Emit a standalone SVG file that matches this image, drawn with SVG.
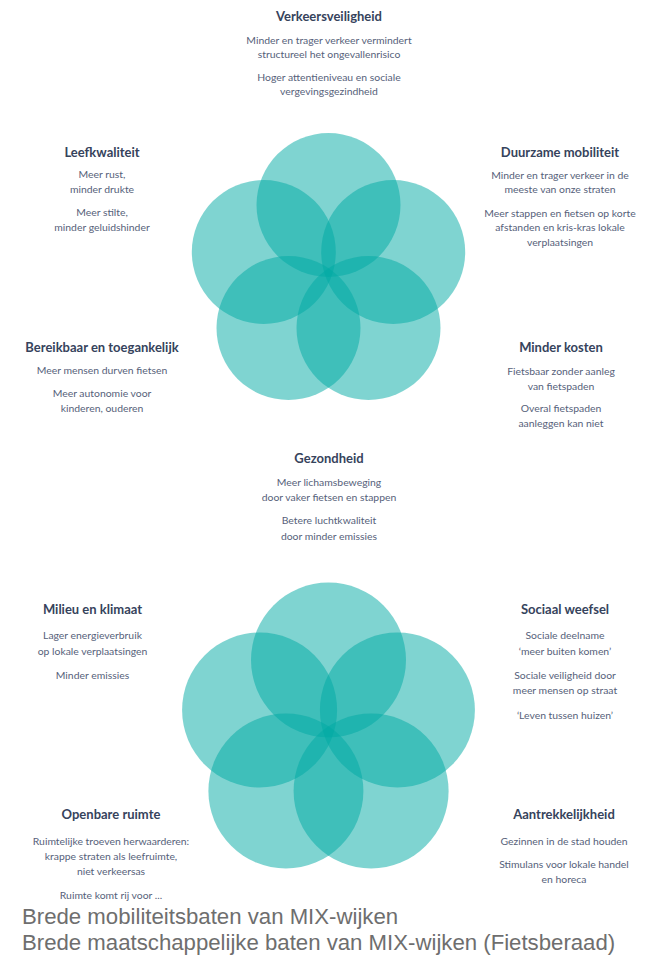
<svg xmlns="http://www.w3.org/2000/svg" width="659" height="955" viewBox="0 0 659 955">
  <style>
    .petal { fill: #00a9a4; fill-opacity: 0.5; }
    .title { font-family: Lato, "Noto Sans", "DejaVu Sans", sans-serif; font-weight: 700; font-size: 13px; fill: #36435c; text-anchor: middle; }
    .body { font-family: Lato, "Noto Sans", "DejaVu Sans", sans-serif; font-size: 10.4px; fill: #56617a; text-anchor: middle; }
    .caption { font-family: "Liberation Sans", Arial, sans-serif; font-size: 22.2px; fill: #6e6e6e; }
  </style>
  <rect width="659" height="955" fill="#ffffff"/>

  <!-- upper flower: five overlapping circles on a pentagon -->
  <g id="flower-mobility">
    <circle class="petal" cx="328.5" cy="205" r="72"/>
    <circle class="petal" cx="263.8" cy="252" r="72"/>
    <circle class="petal" cx="393.2" cy="252" r="72"/>
    <circle class="petal" cx="288.5" cy="328" r="72"/>
    <circle class="petal" cx="368.5" cy="328" r="72"/>
  </g>

  <!-- lower flower -->
  <g id="flower-society">
    <circle class="petal" cx="328.5" cy="660" r="77.5"/>
    <circle class="petal" cx="259.6" cy="710" r="77.5"/>
    <circle class="petal" cx="397.4" cy="710" r="77.5"/>
    <circle class="petal" cx="285.9" cy="791" r="77.5"/>
    <circle class="petal" cx="371.1" cy="791" r="77.5"/>
  </g>

  <g id="connectors"/>

  <g id="verkeersveiligheid">
    <text class="title" x="329" y="21">Verkeersveiligheid</text>
    <text class="body" x="329" y="44">Minder en trager verkeer vermindert</text>
    <text class="body" x="329" y="58">structureel het ongevallenrisico</text>
    <text class="body" x="329" y="81">Hoger attentieniveau en sociale</text>
    <text class="body" x="329" y="95">vergevingsgezindheid</text>
  </g>

  <g id="leefkwaliteit">
    <text class="title" x="102" y="157">Leefkwaliteit</text>
    <text class="body" x="102" y="178">Meer rust,</text>
    <text class="body" x="102" y="193">minder drukte</text>
    <text class="body" x="102" y="216">Meer stilte,</text>
    <text class="body" x="102" y="231">minder geluidshinder</text>
  </g>

  <g id="duurzame-mobiliteit">
    <text class="title" x="560" y="157">Duurzame mobiliteit</text>
    <text class="body" x="560" y="179">Minder en trager verkeer in de</text>
    <text class="body" x="560" y="193">meeste van onze straten</text>
    <text class="body" x="560" y="217">Meer stappen en fietsen op korte</text>
    <text class="body" x="560" y="231">afstanden en kris-kras lokale</text>
    <text class="body" x="560" y="246">verplaatsingen</text>
  </g>

  <g id="bereikbaar">
    <text class="title" x="102" y="352">Bereikbaar en toegankelijk</text>
    <text class="body" x="102" y="374">Meer mensen durven fietsen</text>
    <text class="body" x="102" y="397">Meer autonomie voor</text>
    <text class="body" x="102" y="412">kinderen, ouderen</text>
  </g>

  <g id="minder-kosten">
    <text class="title" x="561" y="352">Minder kosten</text>
    <text class="body" x="561" y="375">Fietsbaar zonder aanleg</text>
    <text class="body" x="561" y="390">van fietspaden</text>
    <text class="body" x="561" y="412">Overal fietspaden</text>
    <text class="body" x="561" y="427">aanleggen kan niet</text>
  </g>

  <g id="gezondheid">
    <text class="title" x="329" y="463">Gezondheid</text>
    <text class="body" x="329" y="486">Meer lichamsbeweging</text>
    <text class="body" x="329" y="501">door vaker fietsen en stappen</text>
    <text class="body" x="329" y="524">Betere luchtkwaliteit</text>
    <text class="body" x="329" y="540">door minder emissies</text>
  </g>

  <g id="milieu-en-klimaat">
    <text class="title" x="92.5" y="614">Milieu en klimaat</text>
    <text class="body" x="92.5" y="639">Lager energieverbruik</text>
    <text class="body" x="92.5" y="655">op lokale verplaatsingen</text>
    <text class="body" x="92.5" y="679">Minder emissies</text>
  </g>

  <g id="sociaal-weefsel">
    <text class="title" x="565" y="614">Sociaal weefsel</text>
    <text class="body" x="565" y="639">Sociale deelname</text>
    <text class="body" x="565" y="655">‘meer buiten komen’</text>
    <text class="body" x="565" y="679">Sociale veiligheid door</text>
    <text class="body" x="565" y="694">meer mensen op straat</text>
    <text class="body" x="565" y="719">‘Leven tussen huizen’</text>
  </g>

  <g id="openbare-ruimte">
    <text class="title" x="111" y="819">Openbare ruimte</text>
    <text class="body" x="111" y="845">Ruimtelijke troeven herwaarderen:</text>
    <text class="body" x="111" y="860">krappe straten als leefruimte,</text>
    <text class="body" x="111" y="875">niet verkeersas</text>
    <text class="body" x="111" y="899">Ruimte komt rij voor ...</text>
  </g>

  <g id="aantrekkelijkheid">
    <text class="title" x="564" y="819">Aantrekkelijkheid</text>
    <text class="body" x="564" y="845">Gezinnen in de stad houden</text>
    <text class="body" x="564" y="868">Stimulans voor lokale handel</text>
    <text class="body" x="564" y="883">en horeca</text>
  </g>

  <g id="captions">
    <text class="caption" x="22" y="924">Brede mobiliteitsbaten van MIX-wijken</text>
    <text class="caption" x="22" y="950">Brede maatschappelijke baten van MIX-wijken (Fietsberaad)</text>
  </g>
</svg>
